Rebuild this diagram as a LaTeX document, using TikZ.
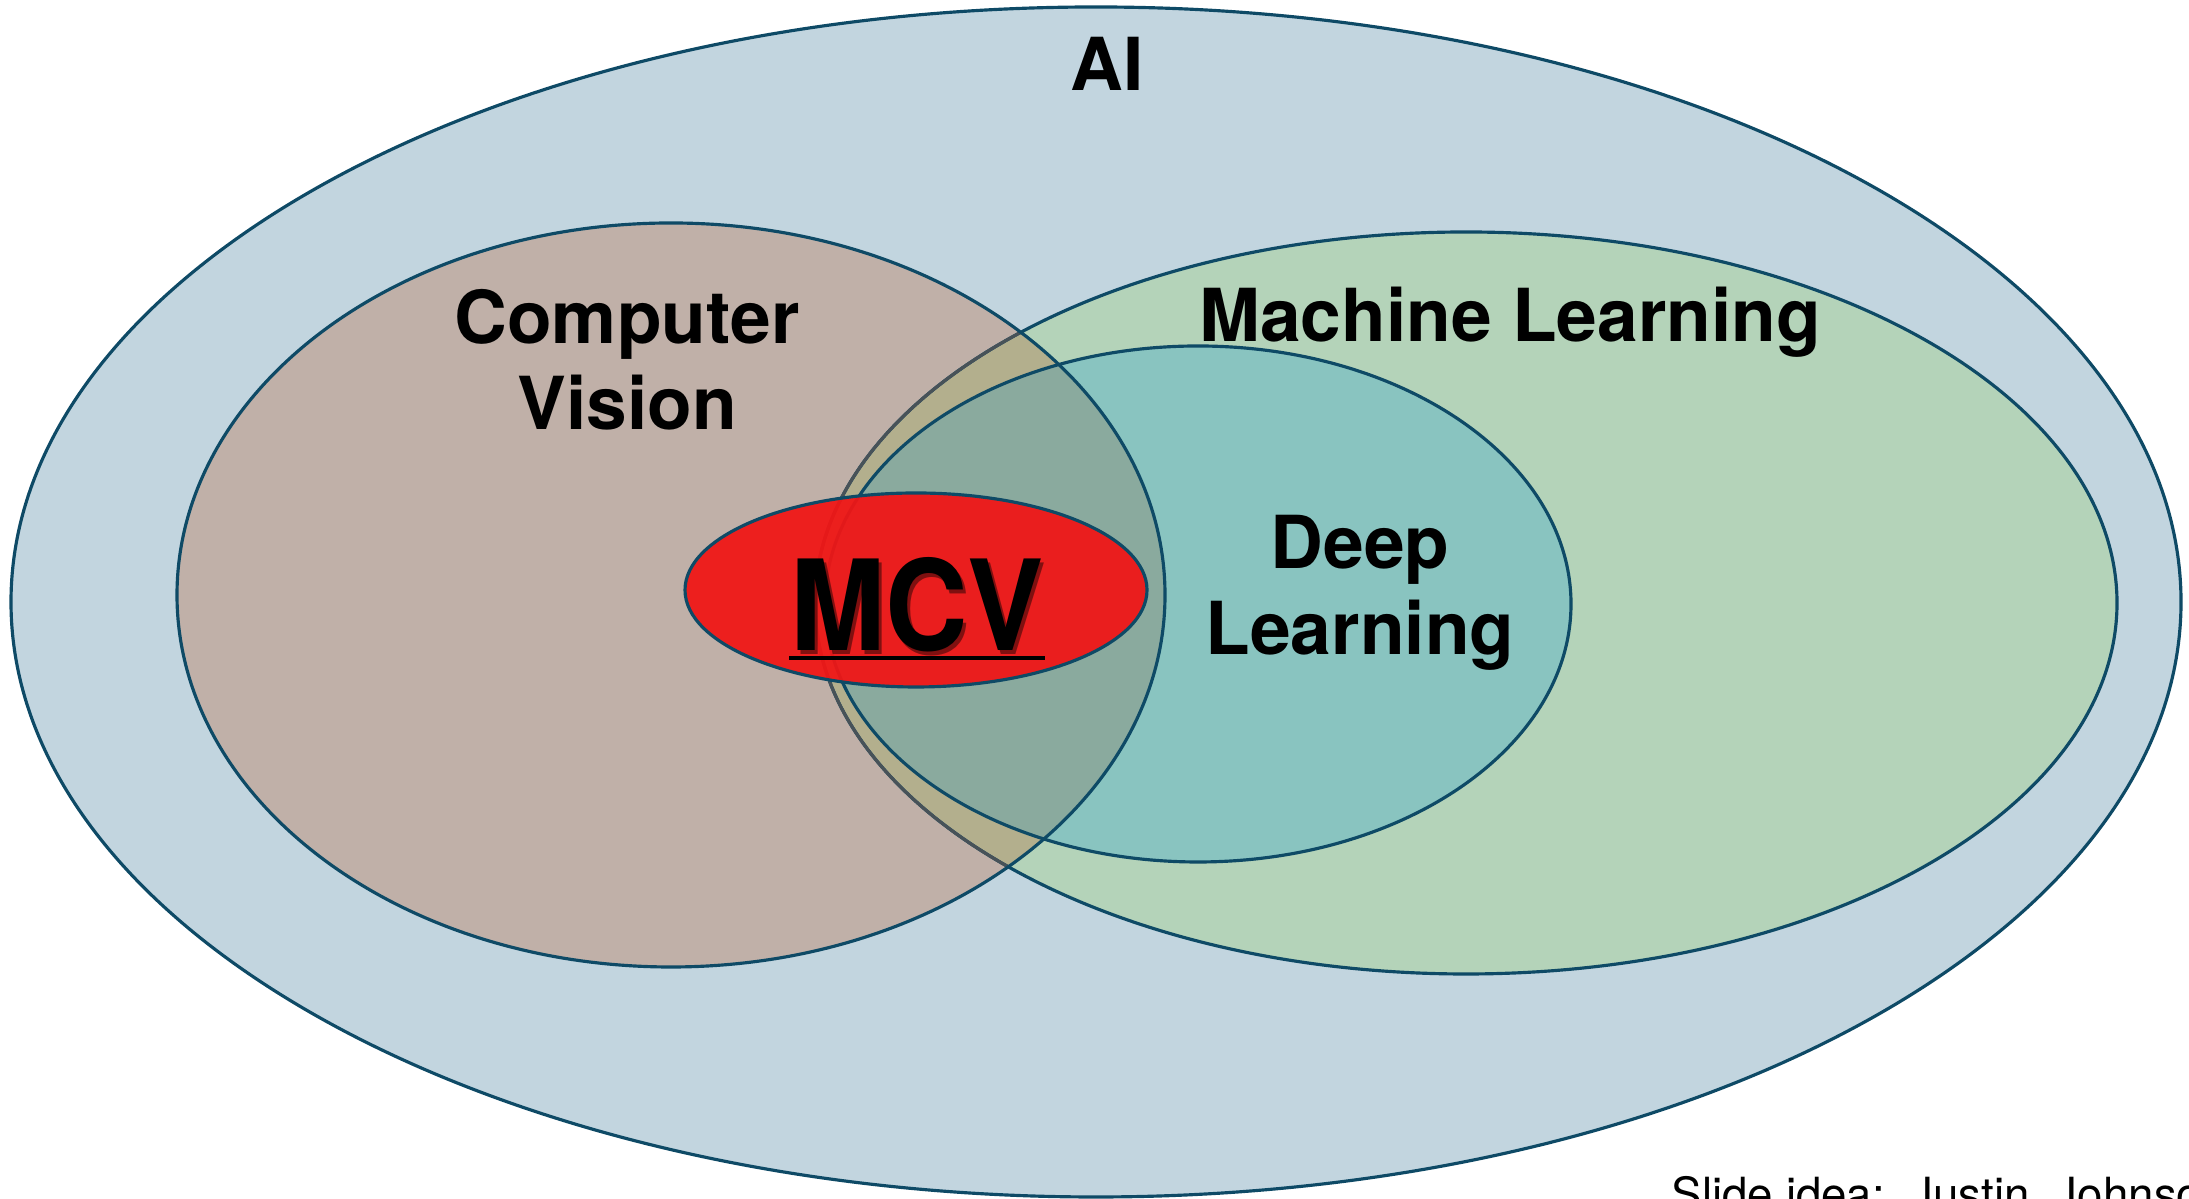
\documentclass[tikz,border=0pt]{standalone}
\usepackage{fontspec}
\setmainfont{TeX Gyre Heros}
\usetikzlibrary{positioning}

\definecolor{aiblue}{RGB}{194,213,223}
\definecolor{cvbrown}{RGB}{192,176,168}
\definecolor{mlgreen}{RGB}{180,211,185}
\definecolor{dlteal}{RGB}{137,196,192}
\definecolor{cvml}{RGB}{179,175,141}
\definecolor{cvdl}{RGB}{138,170,158}
\definecolor{rim}{RGB}{14,74,102}
\definecolor{rimgray}{RGB}{72,82,88}
\definecolor{mcvred}{RGB}{240,22,22}

\begin{document}
\begin{tikzpicture}[
    rim/.style={draw=rim, line width=0.9pt},
    aisize/.style={x radius=10.85, y radius=5.95},
    cvsize/.style={x radius=4.94, y radius=3.72},
    mlsize/.style={x radius=6.51, y radius=3.71},
    dlsize/.style={x radius=3.73, y radius=2.58},
    mcvsize/.style={x radius=2.31, y radius=0.97},
    lbl/.style={font=\bfseries\fontsize{20.8}{24.7}\selectfont, align=center, inner sep=0pt, anchor=base},
]
\useasboundingbox (0,0) rectangle (21.89,11.99);
\coordinate (ai) at (10.96,5.97);
\coordinate (cv) at (6.71,6.04);
\coordinate (ml) at (14.66,5.96);
\coordinate (dl) at (11.98,5.95);
\coordinate (mcv) at (9.16,6.09);

% regions
\path[rim, fill=aiblue] (ai) ellipse [aisize];
\fill[cvbrown] (cv) ellipse [cvsize];
\fill[mlgreen] (ml) ellipse [mlsize];
\begin{scope}
  \clip (cv) ellipse [cvsize];
  \fill[cvml] (ml) ellipse [mlsize];
\end{scope}
\fill[dlteal] (dl) ellipse [dlsize];
\begin{scope}
  \clip (cv) ellipse [cvsize];
  \fill[cvdl] (dl) ellipse [dlsize];
\end{scope}

% outlines
\draw[rim] (ml) ellipse [mlsize];
\begin{scope}
  \clip (cv) ellipse [cvsize];
  \draw[draw=rimgray, line width=0.9pt] (ml) ellipse [mlsize];
\end{scope}
\draw[rim] (cv) ellipse [cvsize];
\draw[rim] (dl) ellipse [dlsize];
\path[rim, fill=mcvred, fill opacity=0.94] (mcv) ellipse [mcvsize];

% labels
\node[lbl] (ailbl) at (11.07,11.08) {AI};
\node[lbl] (cvlbl) at (6.27,7.69) {Computer\\Vision};
\node[lbl] (mllbl) at (15.10,8.57) {Machine Learning};
\node[lbl] (dllbl) at (13.60,5.44) {Deep\\Learning};
\node[lbl, font=\bfseries\fontsize{32.5}{36}\selectfont, text=black, opacity=0.45] (mcvshadow) at (9.20,5.44) {\scalebox{1}[1.1]{MCV}};
\node[lbl, font=\bfseries\fontsize{32.5}{36}\selectfont] (mcvlbl) at (9.17,5.48) {\scalebox{1}[1.1]{MCV}};
\draw[line width=1.4pt] ([yshift=-0.07cm]mcvlbl.base west) -- ([yshift=-0.07cm]mcvlbl.base east);
\node[inner sep=0pt, anchor=base west, font=\fontsize{13}{15}\selectfont] (credit) at (16.71,-0.12) {Slide idea:\ \ Justin\ \ Johnson};
\end{tikzpicture}
\end{document}
